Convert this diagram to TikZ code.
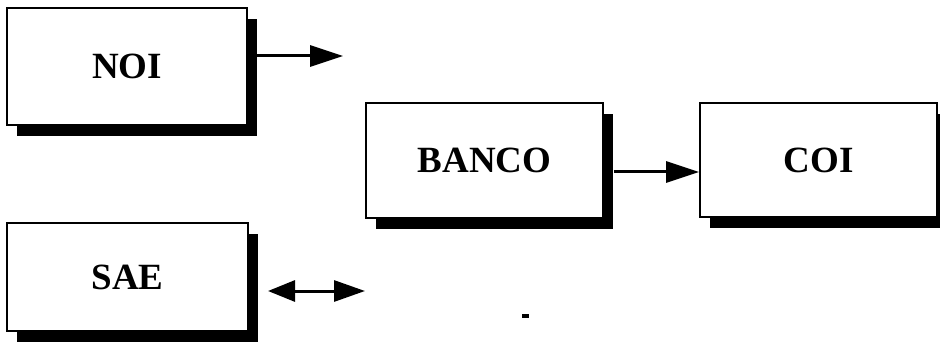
\documentclass[tikz,border=0pt]{standalone}
\usepackage{fontspec}
\setmainfont{Liberation Serif}
\usetikzlibrary{shadows,arrows.meta}
\tikzset{
  box/.style={draw=black, line width=1.7pt, fill=white, inner sep=0pt,
    font=\fontsize{37}{40}\selectfont\bfseries,
    drop shadow={shadow xshift=10pt, shadow yshift=-11pt, fill=black, opacity=1}},
  arr/.style={line width=3pt, -{Triangle[length=33pt,width=21pt]}},
  darr/.style={line width=3pt, {Triangle[length=27pt,width=21pt]}-{Triangle[length=31pt,width=21pt]}}
}
\begin{document}
\begin{tikzpicture}[x=1pt,y=-1pt]
\useasboundingbox[fill=white] (0,0) rectangle (940,350);
\node[box, minimum width=240pt, minimum height=117pt] (NOI) at (127,66.5) {NOI};
\node[box, minimum width=241pt, minimum height=108pt] (SAE) at (127.5,277) {SAE};
\node[box, minimum width=237pt, minimum height=115pt] (BANCO) at (484.5,160.5) {BANCO};
\node[box, minimum width=237pt, minimum height=114pt] (COI) at (818.5,160) {COI};
\coordinate (noiend) at (343,56);
\coordinate (sa1) at (268,291);
\coordinate (sa2) at (365,291);
\path ([yshift=-12pt]COI.west) coordinate (cin);
\draw[arr] ([xshift=9pt]NOI.east |- noiend) -- (noiend);
\draw[arr] ([xshift=10pt]BANCO.east |- cin) -- (cin);
\draw[darr] (sa1) -- (sa2);
\fill (522,314) rectangle (529,318);
\end{tikzpicture}
\end{document}
